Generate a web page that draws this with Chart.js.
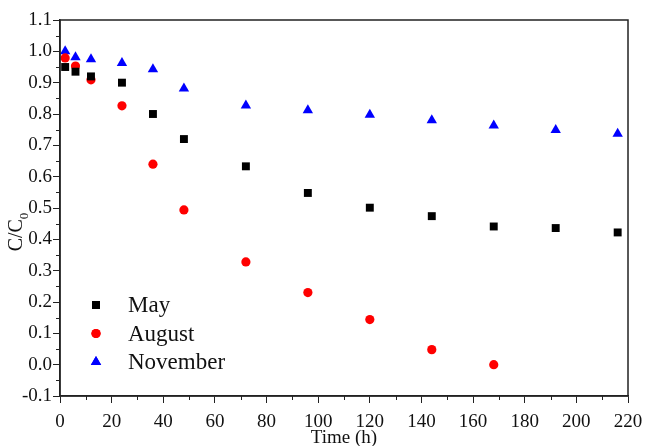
<!DOCTYPE html>
<html><head><meta charset="utf-8">
<script src="https://cdn.jsdelivr.net/npm/chart.js@4"></script>
<style>html,body{margin:0;padding:0;background:#fff}#wrap{width:646px;height:446px}</style>
</head><body><div id="wrap"><canvas id="c" width="646" height="446"></canvas></div>
<script>
const times = [2, 6, 12, 24, 36, 48, 72, 96, 120, 144, 168, 192, 216];
const mayValues = [0.95, 0.935, 0.92, 0.90, 0.80, 0.72, 0.633, 0.548, 0.501, 0.474, 0.441, 0.436, 0.422];
const augustTimes = [2, 6, 12, 24, 36, 48, 72, 96, 120, 144, 168];
const augustValues = [0.979, 0.953, 0.909, 0.826, 0.640, 0.494, 0.328, 0.230, 0.144, 0.048, 0.0];
const novemberValues = [1.0, 0.981, 0.975, 0.963, 0.943, 0.881, 0.827, 0.812, 0.798, 0.780, 0.763, 0.749, 0.737];
const seriesLabels = ['May', 'August', 'November'];
const xTitle = 'Time (h)';
const yTitleMain = 'C/C';
const yTitleSub = '0';

const FONT = "'Liberation Serif', 'Times New Roman', serif";
const toPts = (xs, ys) => xs.map((x, i) => ({x, y: ys[i]}));

const frame = {
  id: 'frame',
  afterDraw(chart) {
    const {ctx, chartArea: a, scales: {x, y}} = chart;
    ctx.save();
    ctx.strokeStyle = '#222'; ctx.lineWidth = 1.5;
    ctx.strokeRect(a.left, a.top, a.right - a.left, a.bottom - a.top);
    // minor ticks
    ctx.lineWidth = 1;
    for (let v = 10; v < 220; v += 20) {
      const px = Math.round(x.getPixelForValue(v)) + 0.5;
      ctx.beginPath(); ctx.moveTo(px, a.bottom); ctx.lineTo(px, a.bottom + 4); ctx.stroke();
    }
    for (let k = 0; k < 12; k++) {
      const v = -0.05 + k * 0.1;
      const py = Math.round(y.getPixelForValue(v)) + 0.5;
      ctx.beginPath(); ctx.moveTo(a.left, py); ctx.lineTo(a.left - 4, py); ctx.stroke();
    }
    // y title with subscript
    ctx.save();
    ctx.translate(19, 232);
    ctx.rotate(-Math.PI / 2);
    ctx.fillStyle = '#111';
    ctx.textBaseline = 'middle';
    ctx.textAlign = 'left';
    ctx.font = '20px ' + FONT;
    const wMain = ctx.measureText(yTitleMain).width;
    ctx.font = '13px ' + FONT;
    const wSub = ctx.measureText(yTitleSub).width;
    const start = -(wMain + wSub) / 2;
    ctx.font = '20px ' + FONT;
    ctx.fillText(yTitleMain, start, -2);
    ctx.font = '13px ' + FONT;
    ctx.fillText(yTitleSub, start + wMain, 6);
    ctx.restore();
    // legend
    const lx = 96, ly = [305, 333.5, 362];
    chart.data.datasets.forEach((ds, i) => {
      ctx.fillStyle = ds.backgroundColor;
      ctx.beginPath();
      Chart.helpers.drawPoint(ctx, {pointStyle: ds.pointStyle, radius: ds.pointRadius, rotation: 0, borderWidth: 0}, lx, ly[i]);
      ctx.fill();
      ctx.fillStyle = '#111';
      ctx.font = '23px ' + FONT;
      ctx.textBaseline = 'middle';
      ctx.textAlign = 'left';
      ctx.fillText(ds.label, 128, ly[i] + 1);
    });
    ctx.restore();
  }
};

new Chart(document.getElementById('c'), {
  type: 'scatter',
  data: {
    datasets: [
      {label: seriesLabels[0], data: toPts(times, mayValues), pointStyle: 'rect', pointRadius: 5.6, pointHoverRadius: 5.6, backgroundColor: '#000', borderColor: '#000', borderWidth: 0},
      {label: seriesLabels[1], data: toPts(augustTimes, augustValues), pointStyle: 'circle', pointRadius: 4.6, pointHoverRadius: 4.6, backgroundColor: '#ff0000', borderColor: '#ff0000', borderWidth: 0},
      {label: seriesLabels[2], data: toPts(times, novemberValues), pointStyle: 'triangle', pointRadius: 6, pointHoverRadius: 6, backgroundColor: '#0000ff', borderColor: '#0000ff', borderWidth: 0}
    ]
  },
  options: {
    responsive: false,
    animation: false,
    layout: {padding: {top: 20, right: 18, left: 0, bottom: 0}},
    plugins: {legend: {display: false}, tooltip: {enabled: false}},
    scales: {
      x: {
        type: 'linear', min: 0, max: 220,
        afterFit(s) { s.height = 50; s.paddingLeft = 0; s.paddingRight = 0; },
        ticks: {stepSize: 20, color: '#111', font: {family: FONT, size: 19}, padding: 8, maxRotation: 0},
        grid: {drawOnChartArea: false, tickLength: 7, color: '#222'},
        border: {display: true, color: '#222', width: 1.5},
        title: {display: true, text: xTitle, color: '#111', font: {family: FONT, size: 19}, padding: {top: -3, bottom: -3}}
      },
      y: {
        type: 'linear', min: -0.1, max: 1.1,
        afterFit(s) { s.width = 60; s.paddingTop = 0; s.paddingBottom = 0; },
        ticks: {stepSize: 0.1, color: '#111', font: {family: FONT, size: 19}, padding: 1,
          callback: v => (Math.abs(v) < 1e-9 ? 0 : v).toFixed(1)},
        grid: {drawOnChartArea: false, tickLength: 7, color: '#222'},
        border: {display: true, color: '#222', width: 1.5},
        title: {display: false}
      }
    }
  },
  plugins: [frame]
});
</script></body></html>
